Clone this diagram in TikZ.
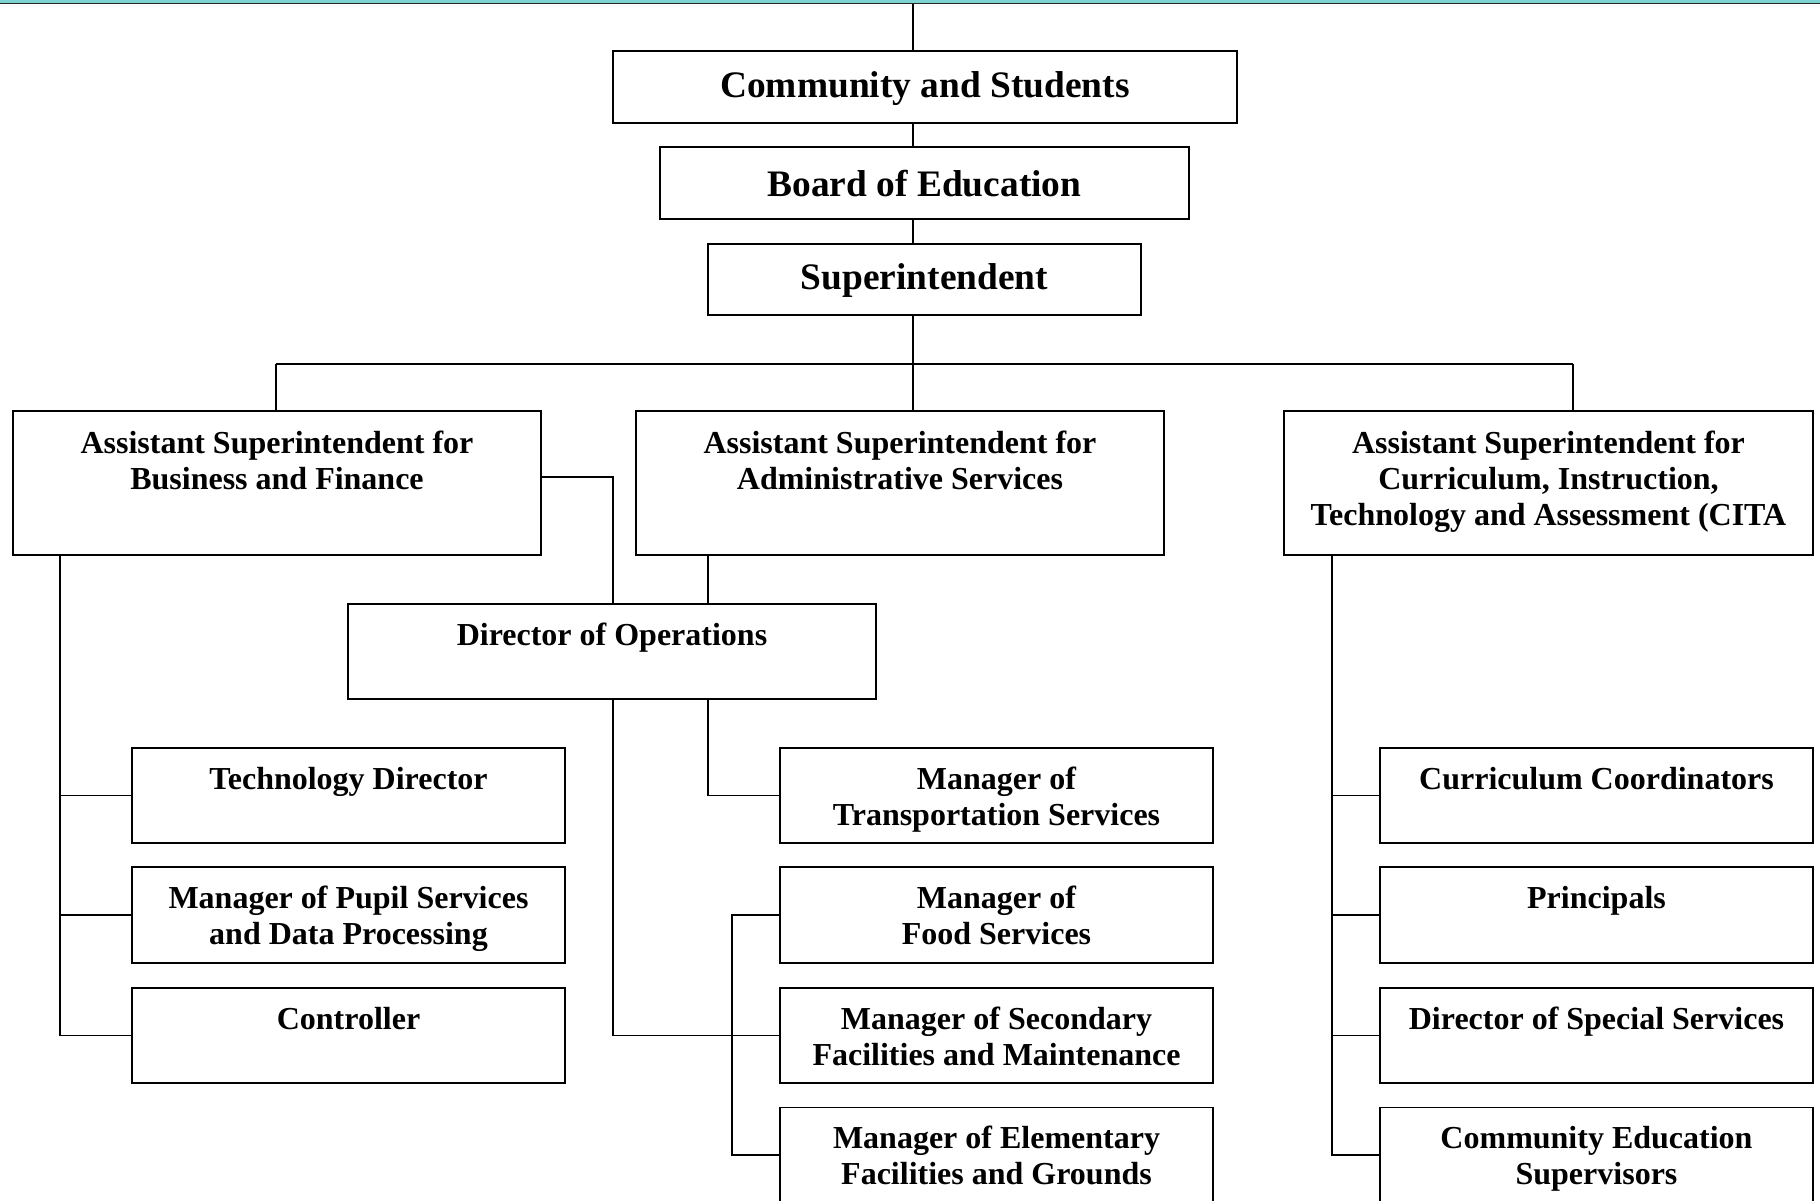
\documentclass[tikz,border=0pt]{standalone}
\usepackage{fontspec}
\setmainfont{Liberation Serif}
\definecolor{bandteal}{RGB}{127,210,210}
\definecolor{linegray}{RGB}{40,40,40}
\begin{document}
\begin{tikzpicture}[x=0.5pt,y=-0.5pt,
  box/.style={draw=black,line width=0.9pt,fill=white,rectangle,inner sep=0pt},
  topbox/.style={box,font=\fontsize{18.7}{22}\selectfont\bfseries},
  toplbl/.style={inner sep=0pt,font=\fontsize{18.7}{22}\selectfont\bfseries},
  lbl/.style={anchor=north,inner sep=0pt,align=center,font=\fontsize{16}{18}\selectfont\bfseries},
  conn/.style={draw=black,line width=0.6pt}]
\useasboundingbox (0,0) rectangle (1820,1200);
\fill[white] (0,0) rectangle (1820,1200);
% top band
\fill[bandteal] (0,0) rectangle (1820,2.5);
\fill[linegray] (0,2.5) rectangle (1820,4);
\coordinate (top) at (913,4);
\coordinate (spine) at (913,0);
% top level boxes
\node[box,minimum width=312pt,minimum height=36pt] (cs) at (925,87) {};
\node[box,minimum width=264.5pt,minimum height=36pt] (boe) at (924.5,183) {};
\node[box,minimum width=216.5pt,minimum height=35.5pt] (sup) at (924.5,279.5) {};
\node[toplbl] (cst) at ([yshift=-1pt]cs.center) {Community and Students};
\node[toplbl] (boet) at ([yshift=-0.5pt]boe.center) {Board of Education};
\node[toplbl] (supt) at ([yshift=-0.5pt]sup.center) {Superintendent};
% assistant superintendents
\node[box,minimum width=264pt,minimum height=72pt] (asb) at (277,483) {};
\node[box,minimum width=264pt,minimum height=72pt] (asa) at (900,483) {};
\node[box,minimum width=264.5pt,minimum height=72pt] (asc) at (1548.5,483) {};
\node[lbl] (asbt) at ([yshift=-8.7pt]asb.north) {\strut Assistant Superintendent for\\Business and Finance};
\node[lbl] (asat) at ([yshift=-8.7pt]asa.north) {\strut Assistant Superintendent for\\Administrative Services};
\node[lbl] (asct) at ([yshift=-8.7pt]asc.north) {\strut Assistant Superintendent for\\Curriculum, Instruction,\\Technology and Assessment (CITA};
% director of operations
\node[box,minimum width=264pt,minimum height=47.5pt] (dop) at (612,651.5) {};
\node[lbl] (dopt) at ([yshift=-8.5pt]dop.north) {\strut Director of Operations};
% left column
\node[box,minimum width=216.5pt,minimum height=47.5pt] (tech) at (348.5,795.5) {};
\node[box,minimum width=216.5pt,minimum height=48pt] (pupil) at (348.5,915) {};
\node[box,minimum width=216.5pt,minimum height=47.5pt] (ctrl) at (348.5,1035.5) {};
\node[lbl] at ([yshift=-8.2pt]tech.north) {\strut Technology Director};
\node[lbl] at ([yshift=-8.2pt]pupil.north) {\strut Manager of Pupil Services\\and Data Processing};
\node[lbl] at ([yshift=-8.2pt]ctrl.north) {\strut Controller};
% middle column
\node[box,minimum width=216.5pt,minimum height=47.5pt] (trans) at (996.5,795.5) {};
\node[box,minimum width=216.5pt,minimum height=48pt] (food) at (996.5,915) {};
\node[box,minimum width=216.5pt,minimum height=47.5pt] (sec) at (996.5,1035.5) {};
\node[box,minimum width=216.5pt,minimum height=47.5pt] (elem) at (996.5,1155) {};
\node[lbl] at ([yshift=-8.2pt]trans.north) {\strut Manager of\\Transportation Services};
\node[lbl] at ([yshift=-8.2pt]food.north) {\strut Manager of\\Food Services};
\node[lbl] at ([yshift=-8.2pt]sec.north) {\strut Manager of Secondary\\Facilities and Maintenance};
\node[lbl] at ([yshift=-8.2pt]elem.north) {\strut Manager of Elementary\\Facilities and Grounds};
% right column
\node[box,minimum width=216.5pt,minimum height=47.5pt] (curr) at (1596.5,795.5) {};
\node[box,minimum width=216.5pt,minimum height=48pt] (prin) at (1596.5,915) {};
\node[box,minimum width=216.5pt,minimum height=47.5pt] (spec) at (1596.5,1035.5) {};
\node[box,minimum width=216.5pt,minimum height=47.5pt] (ced) at (1596.5,1155) {};
\node[lbl] at ([yshift=-8.2pt]curr.north) {\strut Curriculum Coordinators};
\node[lbl] at ([yshift=-8.2pt]prin.north) {\strut Principals};
\node[lbl] at ([yshift=-8.2pt]spec.north) {\strut Director of Special Services};
\node[lbl] at ([yshift=-8.2pt]ced.north) {\strut Community Education\\Supervisors};
% helper coordinates
\coordinate (bus) at (0,364);
\coordinate (xl) at (276,0);
\coordinate (xr) at (1573,0);
\coordinate (xop) at (613,0);
\coordinate (xadm) at (708,0);
\coordinate (xmid) at (732,0);
\coordinate (xleft) at (60,0);
\coordinate (xright) at (1332,0);
\coordinate (yb) at (0,477);
% connectors: spine
\draw[conn] (top) -- (cs.north -| spine);
\draw[conn] (cs.south -| spine) -- (boe.north -| spine);
\draw[conn] (boe.south -| spine) -- (sup.north -| spine);
\draw[conn] (sup.south -| spine) -- (asa.north -| spine);
\draw[conn] (bus -| xl) -- (bus -| xr);
\draw[conn] (bus -| xl) -- (asb.north -| xl);
\draw[conn] (bus -| xr) -- (asc.north -| xr);
% business to director of operations
\draw[conn] (yb -| asb.east) -- (yb -| xop) -- (dop.north -| xop);
\draw[conn] (asa.south -| xadm) -- (dop.north -| xadm);
% director of operations to managers
\draw[conn] (dop.south -| xadm) |- (trans.west);
\draw[conn] (dop.south -| xop) |- (sec.west);
\draw[conn] (food.west) -| (xmid |- elem.west) -- (elem.west);
% left column
\draw[conn] (asb.south -| xleft) -- (xleft |- ctrl.west) -- (ctrl.west);
\draw[conn] (xleft |- tech.west) -- (tech.west);
\draw[conn] (xleft |- pupil.west) -- (pupil.west);
% right column
\draw[conn] (asc.south -| xright) -- (xright |- ced.west) -- (ced.west);
\draw[conn] (xright |- curr.west) -- (curr.west);
\draw[conn] (xright |- prin.west) -- (prin.west);
\draw[conn] (xright |- spec.west) -- (spec.west);
\end{tikzpicture}
\end{document}
